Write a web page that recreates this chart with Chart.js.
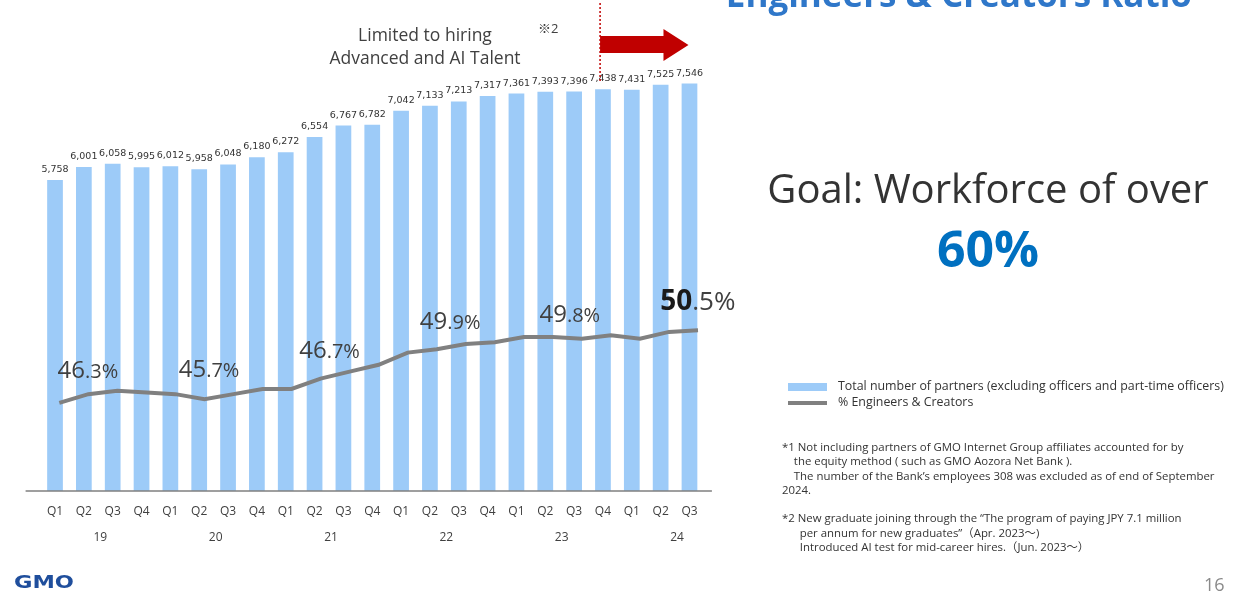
<!DOCTYPE html>
<html>
<head>
<meta charset="utf-8">
<script src="https://cdn.jsdelivr.net/npm/chart.js@4.4.1/dist/chart.umd.min.js"></script>
<style>
  body { margin: 0; background: #fff; font-family: "Open Sans", "Noto Sans CJK JP", sans-serif; color: #333; }
  #page { position: relative; width: 1247px; height: 592px; overflow: hidden; }
  #chart { position: absolute; left: 0; top: 0; }
  .title { position: absolute; right: 55px; top: -30px; font-weight: bold; font-size: 35px; color: #2f77c9; white-space: nowrap; }
  .limited { position: absolute; left: 325px; top: 23px; width: 200px; text-align: center; font-size: 17.5px; line-height: 23px; color: #404040; white-space: nowrap; }
  .ref2 { position: absolute; left: 538px; top: 18px; font-size: 13px; color: #404040; }
  .goal { position: absolute; left: 738px; top: 161px; width: 500px; text-align: center; font-size: 40px; line-height: 54px; color: #333; white-space: nowrap; }
  .goal b { display: block; font-size: 50px; line-height: 66px; color: #0070c0; }
  #legend { position: absolute; left: 788px; top: 378px; font-size: 12.4px; color: #333; }
  #legend div { height: 16px; line-height: 16px; white-space: nowrap; }
  #legend span.sw { display: inline-block; width: 39px; vertical-align: middle; margin-right: 11px; }
  .notes { position: absolute; left: 782px; top: 440px; font-size: 11.4px; line-height: 14.3px; color: #333; white-space: pre; }
  .gmo { position: absolute; left: 14px; top: 571px; font: bold 18px "DejaVu Sans"; color: #1f4e9c; transform: scaleX(1.25); transform-origin: left; }
  .page { position: absolute; left: 1204px; top: 572px; font-size: 18px; color: #8a8a8a; }
</style>
</head>
<body>
<div id="page">
  <canvas id="chart" width="1247" height="592"></canvas>
  <div class="title">Engineers &amp; Creators Ratio</div>
  <div class="limited">Limited to hiring<br>Advanced and AI Talent</div>
  <div class="ref2">※2</div>
  <div class="goal">Goal: Workforce of over<b>60%</b></div>
  <div id="legend"></div>
  <div class="notes">*1 Not including partners of GMO Internet Group affiliates accounted for by
    the equity method ( such as GMO Aozora Net Bank ).
    The number of the Bank’s employees 308 was excluded as of end of September
2024.

*2 New graduate joining through the “The program of paying JPY 7.1 million
      per annum for new graduates”（Apr. 2023～)
      Introduced AI test for mid-career hires.（Jun. 2023～）</div>
  <div class="gmo">GMO</div>
  <div class="page">16</div>
</div>
<script>
// quarterly data, Q1 2019 .. Q3 2024
const quarters = ['Q1', 'Q2', 'Q3', 'Q4', 'Q1', 'Q2', 'Q3', 'Q4', 'Q1', 'Q2', 'Q3', 'Q4',
  'Q1', 'Q2', 'Q3', 'Q4', 'Q1', 'Q2', 'Q3', 'Q4', 'Q1', 'Q2', 'Q3'];
const years = ['19', '20', '21', '22', '23', '24'];
const partners = [5758, 6001, 6058, 5995, 6012, 5958, 6048, 6180, 6272, 6554, 6767, 6782,
  7042, 7133, 7213, 7317, 7361, 7393, 7396, 7438, 7431, 7525, 7546];
const ratio = [46.3, 46.8, 47.0, 46.9, 46.8, 46.5, 46.8, 47.1, 47.1, 47.7, 48.1, 48.5,
  49.2, 49.4, 49.7, 49.8, 50.1, 50.1, 50.0, 50.2, 50.0, 50.4, 50.5];
const ratioTexts = ['46.3%', '45.7%', '46.7%', '49.9%', '49.8%', '50.5%'];

// where the ratio call-outs sit (category index, value on the ratio axis)
const ratioSpots = [[1.14, 47.74], [5.34, 47.8], [9.52, 48.9], [13.7, 50.57], [17.85, 50.98], [22.29, 51.67]];

const barColor = '#9dcbf8';
const lineColor = '#808080';

const extras = {
  id: 'extras',
  afterDatasetsDraw(chart) {
    const {ctx, chartArea, scales: {x, y, y2}} = chart;
    ctx.save();

    // base line
    const y0 = y.getPixelForValue(0);
    ctx.strokeStyle = '#7f7f7f';
    ctx.lineWidth = 1.5;
    ctx.beginPath();
    ctx.moveTo(chartArea.left - 15, y0);
    ctx.lineTo(chartArea.right + 8, y0);
    ctx.stroke();

    // values above the bars
    ctx.font = '9.5px "DejaVu Sans"';
    ctx.fillStyle = '#333';
    ctx.textAlign = 'center';
    ctx.textBaseline = 'alphabetic';
    chart.getDatasetMeta(0).data.forEach((bar, i) => {
      ctx.fillText(partners[i].toLocaleString('en-US'), bar.x, bar.y - 8);
    });

    // year row under the quarters
    ctx.font = '12px "Open Sans"';
    ctx.fillStyle = '#404040';
    ctx.textBaseline = 'middle';
    years.forEach((yr, k) => {
      ctx.fillText(yr, x.getPixelForValue(k * 4 + 1.5) + 2, y0 + 47);
    });

    // ratio call-outs, integer part larger than the decimals
    ctx.textAlign = 'left';
    ctx.textBaseline = 'alphabetic';
    ratioTexts.forEach((t, i) => {
      const dot = t.indexOf('.');
      const head = t.slice(0, dot), tail = t.slice(dot);
      const last = i === ratioTexts.length - 1;
      const fHead = last ? 'bold 28px "Open Sans"' : '24px "Open Sans"';
      const fTail = last ? '26px "Open Sans"' : '20px "Open Sans"';
      ctx.font = fHead;
      const wHead = ctx.measureText(head).width;
      ctx.font = fTail;
      const wTail = ctx.measureText(tail).width;
      const cx = x.getPixelForValue(ratioSpots[i][0]);
      const by = y2.getPixelForValue(ratioSpots[i][1]);
      const left = cx - (wHead + wTail) / 2;
      ctx.fillStyle = last ? '#1a1a1a' : '#404040';
      ctx.font = fHead;
      ctx.fillText(head, left, by);
      ctx.fillStyle = '#404040';
      ctx.font = fTail;
      ctx.fillText(tail, left + wHead, by);
    });

    // red dotted divider and arrow
    const dx = x.getPixelForValue(18.9);
    ctx.strokeStyle = '#c00000';
    ctx.lineWidth = 1.5;
    ctx.setLineDash([2, 2]);
    ctx.beginPath();
    ctx.moveTo(dx, 3);
    ctx.lineTo(dx, 82);
    ctx.stroke();
    ctx.setLineDash([]);

    const tip = x.getPixelForValue(partners.length - 1) - 1;
    ctx.fillStyle = '#c00000';
    ctx.beginPath();
    ctx.moveTo(dx, 36);
    ctx.lineTo(tip - 25, 36);
    ctx.lineTo(tip - 25, 29);
    ctx.lineTo(tip, 45);
    ctx.lineTo(tip - 25, 61);
    ctx.lineTo(tip - 25, 53);
    ctx.lineTo(dx, 53);
    ctx.closePath();
    ctx.fill();

    ctx.restore();
  }
};

const chart = new Chart(document.getElementById('chart'), {
  data: {
    labels: quarters,
    datasets: [
      {
        type: 'bar',
        label: 'Total number of partners (excluding officers and part-time officers)',
        data: partners,
        backgroundColor: barColor,
        categoryPercentage: 1,
        barPercentage: 0.545,
        grouped: false,
        xAxisID: 'x',
        yAxisID: 'y',
        order: 2
      },
      {
        type: 'line',
        label: '% Engineers & Creators',
        data: ratio.map((v, i) => ({x: i, y: v})),
        borderColor: lineColor,
        borderWidth: 4,
        pointRadius: 0,
        tension: 0,
        xAxisID: 'x2',
        yAxisID: 'y2',
        order: 1
      }
    ]
  },
  options: {
    responsive: false,
    animation: false,
    layout: { padding: { left: 40.6, right: 543.1, top: 5, bottom: 60.6 } },
    plugins: { legend: { display: false }, tooltip: { enabled: false } },
    scales: {
      x: {
        offset: true,
        border: { display: false },
        grid: { display: false, drawTicks: false },
        ticks: {
          autoSkip: false, maxRotation: 0, padding: 13,
          color: '#404040', font: { family: 'Open Sans', size: 12 }
        }
      },
      // the ratio line sits slightly to the right of the bar centres
      x2: { type: 'linear', display: false, min: -0.644, max: 22.203 },
      y: { display: false, min: 0, max: 9000 },
      y2: { display: false, min: 41.2, max: 69.3 }
    }
  },
  plugins: [extras]
});

// legend built from the datasets
const legend = document.getElementById('legend');
chart.data.datasets.forEach(ds => {
  const row = document.createElement('div');
  const sw = document.createElement('span');
  sw.className = 'sw';
  if (ds.type === 'bar') {
    sw.style.height = '8px';
    sw.style.background = ds.backgroundColor;
  } else {
    sw.style.height = '4px';
    sw.style.background = ds.borderColor;
  }
  row.appendChild(sw);
  row.appendChild(document.createTextNode(ds.label));
  legend.appendChild(row);
});
</script>
</body>
</html>
